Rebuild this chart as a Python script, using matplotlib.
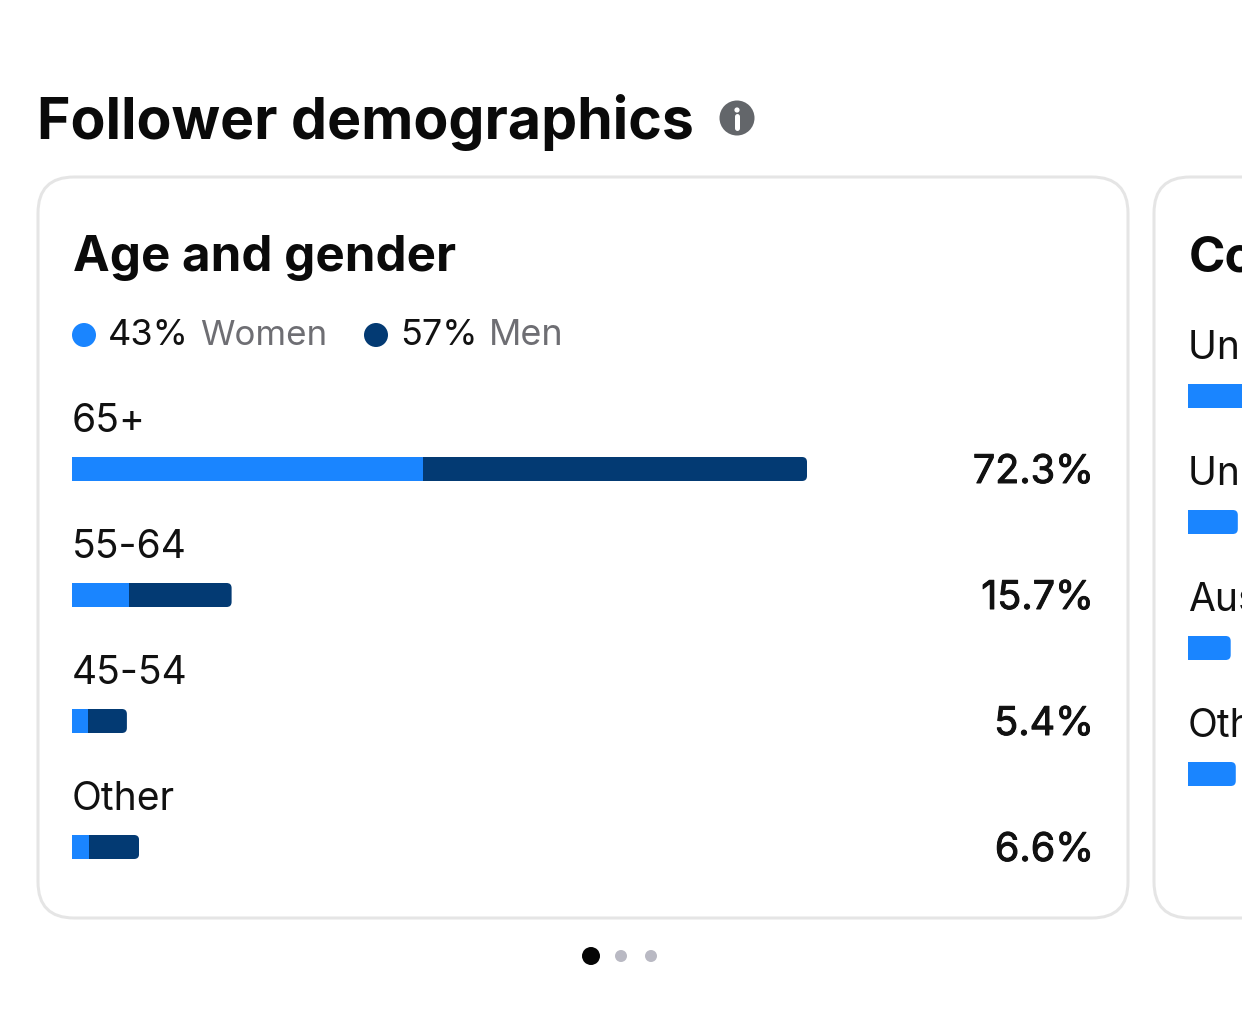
import matplotlib
matplotlib.use('Agg')
import matplotlib.pyplot as plt
import matplotlib.patheffects as pe
from matplotlib.patches import FancyBboxPatch, Circle

plt.rcParams['font.family'] = ['Inter', 'DejaVu Sans']

# age card
age_groups = ['65+', '55-64', '45-54', 'Other']
age_totals = [72.3, 15.7, 5.4, 6.6]
age_women = [34.5, 5.6, 1.6, 1.7]
age_labels = ['72.3%', '15.7%', '5.4%', '6.6%']

# next card, cut off by the right edge of the screenshot
country_names = ['United States', 'United Kingdom', 'Australia', 'Other']
country_values = [85.0, 4.9, 4.2, 4.7]

BLUE = '#1a85ff'
NAVY = '#033a73'
W, H = 1242, 1015
PX_PER_PCT = 10.166
BAR_X0 = 72
COUNTRY_X0 = 1188


def pt(px):
    return px * 0.72


fig = plt.figure(figsize=(W / 100, H / 100), dpi=100, facecolor='white')
ax = fig.add_axes([0, 0, 1, 1])
ax.set_xlim(0, W)
ax.set_ylim(H, 0)
ax.axis('off')

# same y pixels, x in percent, so bars go through a real scale
bars = fig.add_axes([0, 0, 1, 1], facecolor='none')
bars.set_xlim(-BAR_X0 / PX_PER_PCT, (W - BAR_X0) / PX_PER_PCT)
bars.set_ylim(H, 0)
bars.axis('off')

ax.text(37, 139, 'Follower demographics', fontsize=pt(57.2), fontweight='bold', color='#0a0a0a', va='baseline')
ax.add_patch(Circle((737, 118), 17.5, color='#63666a', lw=0))
ax.add_patch(Circle((737, 110), 2.6, color='white', lw=0))
ax.plot([737, 737], [116, 128], color='white', lw=pt(5), solid_capstyle='round')

for x0, x1 in [(38, 1128), (1154, 1400)]:
    ax.add_patch(FancyBboxPatch((x0, 177), x1 - x0, 741, boxstyle='round,pad=0,rounding_size=36',
                                fc='white', ec='#e5e5e5', lw=pt(3)))

ax.text(73, 271, 'Age and gender', fontsize=pt(49.2), fontweight='bold', color='#0a0a0a', va='baseline')
ax.text(1189, 271, 'Countries', fontsize=pt(49.2), fontweight='bold', color='#0a0a0a', va='baseline')

# legend
ax.add_patch(Circle((84, 335), 12, color=BLUE, lw=0))
ax.text(108, 345, '43%', fontsize=pt(36), color='#111111', va='baseline')
ax.text(200, 345, 'Women', fontsize=pt(35), color='#6e6e73', va='baseline')
ax.add_patch(Circle((376, 335), 12, color=NAVY, lw=0))
ax.text(400, 345, '57%', fontsize=pt(36), color='#111111', va='baseline')
ax.text(489, 345, 'Men', fontsize=pt(36), color='#6e6e73', va='baseline')


def rounded_clip(x0_px, x1_px, top):
    # square on the left, rounded on the right
    return FancyBboxPatch((x0_px - 20, top), x1_px - x0_px + 20, 24, boxstyle='round,pad=0,rounding_size=5',
                          transform=ax.transData)


age_tops = [457, 583, 709, 835]
for name, total, women, label, top in zip(age_groups, age_totals, age_women, age_labels, age_tops):
    ax.text(72, top - 25, name, fontsize=pt(39), color='#111111', va='baseline')
    val = ax.text(1094, top + 26, label, fontsize=pt(39.5), color='#111111', ha='right', va='baseline')
    val.set_path_effects([pe.withStroke(linewidth=0.7, foreground='#111111')])
    y = top + 12
    x1_px = BAR_X0 + total * PX_PER_PCT
    for b in bars.barh(y, women, left=0, height=24, color=BLUE, lw=0):
        b.set_clip_path(rounded_clip(BAR_X0, x1_px, top))
    for b in bars.barh(y, total - women, left=women, height=24, color=NAVY, lw=0):
        b.set_clip_path(rounded_clip(BAR_X0, x1_px, top))

country_tops = [384, 510, 636, 762]
country_left = (COUNTRY_X0 - BAR_X0) / PX_PER_PCT
for name, val, top in zip(country_names, country_values, country_tops):
    ax.text(1188, top - 25, name, fontsize=pt(39), color='#111111', va='baseline')
    for b in bars.barh(top + 12, val, left=country_left, height=24, color=BLUE, lw=0):
        b.set_clip_path(rounded_clip(COUNTRY_X0, COUNTRY_X0 + val * PX_PER_PCT, top))

# page dots
ax.add_patch(Circle((591, 956), 9, color='#050505', lw=0))
ax.add_patch(Circle((621, 956), 6, color='#b9b9c3', lw=0))
ax.add_patch(Circle((651, 956), 6, color='#b9b9c3', lw=0))

fig.savefig('out.png', dpi=100, facecolor='white')
